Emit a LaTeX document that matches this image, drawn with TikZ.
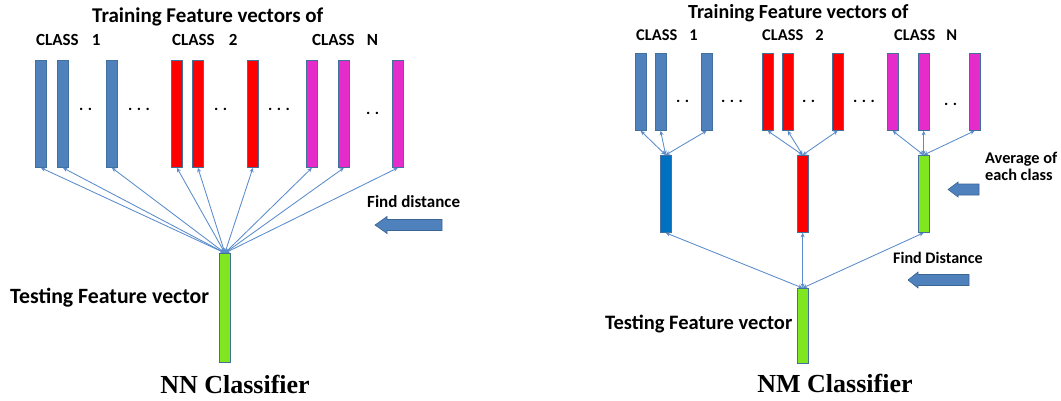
\documentclass[tikz,border=0pt]{standalone}
\usepackage{fontspec}
\setmainfont{Liberation Serif}
\newfontfamily\lbl{Carlito}[BoldFont={* Bold}]
\usetikzlibrary{arrows.meta}
\definecolor{fvblue}{HTML}{4F81BD}
\definecolor{fvedge}{HTML}{41719C}
\definecolor{fvred}{HTML}{FF0000}
\definecolor{fvmag}{HTML}{E52CCB}
\definecolor{fvgreen}{HTML}{80E620}
\definecolor{fvdark}{HTML}{0070C0}
\definecolor{lnk}{HTML}{5A8BCB}
\definecolor{bigarrow}{HTML}{4F81BD}
\definecolor{bigedge}{HTML}{3A6594}
\tikzset{
  fv/.style={draw=fvedge, line width=0.8pt, inner sep=0pt, minimum width=11pt, anchor=north west},
  lnkarrow/.style={draw=lnk, line width=0.85pt, {Stealth[length=4.5pt,width=4pt]}-{Stealth[length=4.5pt,width=4pt]}},
  txt/.style={inner sep=0pt, anchor=base west, text=black},
  dots/.style={inner sep=0pt, anchor=base west, font=\lbl\bfseries\fontsize{16}{18}\selectfont},
  fat/.style={fill=bigarrow, draw=bigedge, line width=0.6pt}
}
\begin{document}
\begin{tikzpicture}[x=1pt,y=-1pt]
\useasboundingbox (0,0) rectangle (1061,400);
% ================= NN classifier =================
\node[txt, font=\lbl\bfseries\fontsize{21}{24}\selectfont] (t1) at (92,22) {Training Feature vectors of};
\node[txt, font=\lbl\bfseries\fontsize{17}{20}\selectfont] (c11) at (36,45.5) {CLASS\hspace{13pt}1};
\node[txt, font=\lbl\bfseries\fontsize{17}{20}\selectfont] (c12) at (172,45.5) {CLASS\hspace{14pt}2};
\node[txt, font=\lbl\bfseries\fontsize{17}{20}\selectfont] (c1n) at (312,45.5) {CLASS\hspace{12pt}N};

\foreach \n/\x/\c in {a1/35/fvblue,a2/57/fvblue,a3/106/fvblue,a4/171/fvred,a5/192/fvred,a6/247/fvred,a7/306/fvmag,a8/338/fvmag,a9/392/fvmag}
  \node[fv, fill=\c, minimum height=107pt] (\n) at (\x,60) {};

\node[dots] (d1) at (79,110) {.\hspace{4.5pt}.};
\node[dots] (d2) at (128,110) {.\hspace{4.5pt}.\hspace{4.5pt}.};
\node[dots] (d3) at (214,110) {.\hspace{4.5pt}.};
\node[dots] (d4) at (268,110) {.\hspace{4.5pt}.\hspace{4.5pt}.};
\node[dots] (d5) at (366,114) {.\hspace{4.5pt}.};

\node[fv, fill=fvgreen, minimum height=109pt] (test1) at (219,253) {};
\foreach \n in {a1,a2,a3,a4,a5,a6,a7,a8,a9}
  \draw[lnkarrow] (test1.north) -- (\n.south);

\node[txt, font=\lbl\bfseries\fontsize{17}{20}\selectfont] (fd1) at (367,207) {Find distance};
\draw[fat] (375,225) -- (387,216.5) -- (387,219.5) -- (442,219.5) -- (442,230.5) -- (387,230.5) -- (387,233.5) -- cycle;

\node[txt, font=\lbl\bfseries\fontsize{21.8}{24}\selectfont] (tf1) at (10,303) {Testing Feature vector};
\node[inner sep=0pt, anchor=base, font=\bfseries\fontsize{26}{30}\selectfont] (nn) at (235,393) {NN Classifier};

% ================= NM classifier =================
\node[txt, font=\lbl\bfseries\fontsize{20}{24}\selectfont] (t2) at (688,18.5) {Training Feature vectors of};
\node[txt, font=\lbl\bfseries\fontsize{16.4}{20}\selectfont] (c21) at (636,40.7) {CLASS\hspace{12pt}1};
\node[txt, font=\lbl\bfseries\fontsize{16.4}{20}\selectfont] (c22) at (762,40.7) {CLASS\hspace{12pt}2};
\node[txt, font=\lbl\bfseries\fontsize{16.4}{20}\selectfont] (c2n) at (894,40.7) {CLASS\hspace{11pt}N};

\foreach \n/\x/\c in {b1/635/fvblue,b2/655/fvblue,b3/701/fvblue,b4/762/fvred,b5/782/fvred,b6/832/fvred,b7/887/fvmag,b8/918/fvmag,b9/969/fvmag}
  \node[fv, fill=\c, minimum width=10.5pt, minimum height=77pt] (\n) at (\x,53) {};

\node[dots] (e1) at (676,102) {.\hspace{4.5pt}.};
\node[dots] (e2) at (721,102) {.\hspace{4.5pt}.\hspace{4.5pt}.};
\node[dots] (e3) at (802,102) {.\hspace{4.5pt}.};
\node[dots] (e4) at (853,102) {.\hspace{4.5pt}.\hspace{4.5pt}.};
\node[dots] (e5) at (944,105) {.\hspace{4.5pt}.};

\node[fv, fill=fvdark, minimum width=10.5pt, minimum height=77pt] (m1) at (660,155) {};
\node[fv, fill=fvred, minimum width=10.5pt, minimum height=77pt] (m2) at (797,155) {};
\node[fv, fill=fvgreen, minimum width=10.5pt, minimum height=77pt] (m3) at (918,155) {};

\foreach \n in {b1,b2,b3} \draw[lnkarrow] (m1.north) -- (\n.south);
\foreach \n in {b4,b5,b6} \draw[lnkarrow] (m2.north) -- (\n.south);
\foreach \n in {b7,b8,b9} \draw[lnkarrow] (m3.north) -- (\n.south);

\node[fv, fill=fvgreen, minimum width=10.5pt, minimum height=75pt] (test2) at (797,288) {};
\foreach \n in {m1,m2,m3} \draw[lnkarrow] (test2.north) -- (\n.south);

\node[txt, align=left, anchor=base west, font=\lbl\bfseries\fontsize{16.3}{17}\selectfont] (avg) at (985,180) {Average of\\each class};
\draw[fat] (948,189.5) -- (958,182) -- (958,184) -- (979,184) -- (979,195) -- (958,195) -- (958,197) -- cycle;

\node[txt, font=\lbl\bfseries\fontsize{16.1}{20}\selectfont] (fd2) at (893,263) {Find Distance};
\draw[fat] (908,280) -- (918,272) -- (918,274.5) -- (969,274.5) -- (969,285.5) -- (918,285.5) -- (918,288) -- cycle;

\node[txt, font=\lbl\bfseries\fontsize{20.5}{24}\selectfont] (tf2) at (605,329) {Testing Feature vector};
\node[inner sep=0pt, anchor=base, font=\bfseries\fontsize{26}{30}\selectfont] (nm) at (835,392) {NM Classifier};
\end{tikzpicture}
\end{document}
